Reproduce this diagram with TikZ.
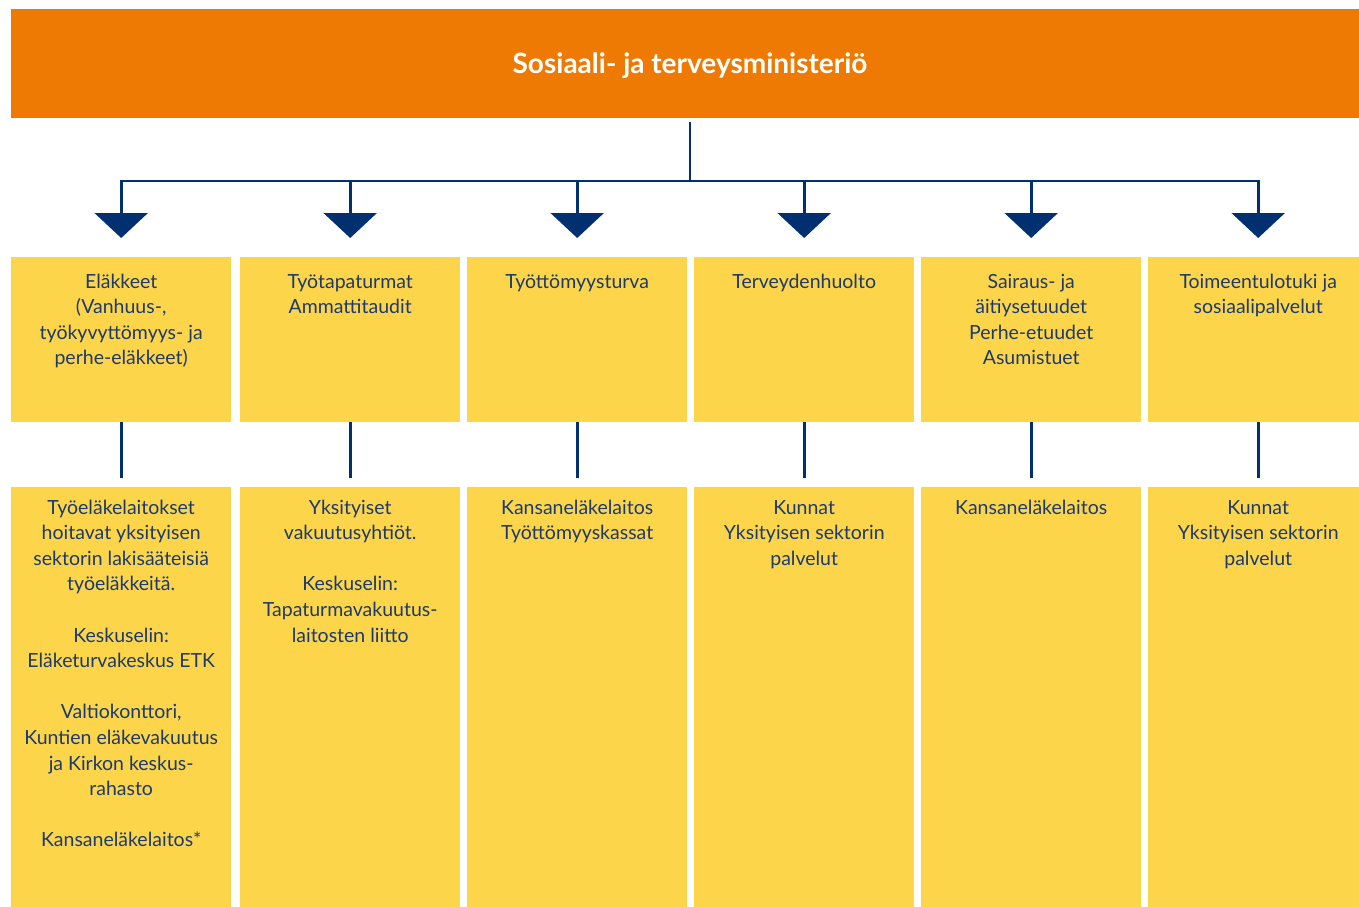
\documentclass[tikz,border=0pt]{standalone}
\usepackage{fontspec}
\setmainfont{Lato}
\usetikzlibrary{arrows.meta}
\definecolor{stmorange}{HTML}{EE7A03}
\definecolor{stmyellow}{HTML}{FDD54B}
\definecolor{stmnavy}{HTML}{00306F}
\definecolor{stmtext}{HTML}{1D3A6C}
\begin{document}
\begin{tikzpicture}[x=1pt,y=-1pt,
  topbox/.style={fill=stmyellow, draw=none, inner sep=0pt, minimum width=220pt, minimum height=165pt, anchor=north west},
  lowbox/.style={fill=stmyellow, draw=none, inner sep=0pt, minimum width=220pt, minimum height=425pt, anchor=north west},
  txt/.style={anchor=north, inner sep=0pt, align=center, text=stmtext, font=\fontsize{19.5}{25.6}\selectfont},
  link/.style={draw=stmnavy, line width=2.6pt},
  arrowlink/.style={link, -{Triangle[width=53pt,length=25pt]}, shorten >=19pt},
]
\useasboundingbox (0,0) rectangle (1359,906);
% top bar
\node[fill=stmorange, inner sep=0pt, minimum width=1360pt, minimum height=109pt, anchor=north west] (top) at (10.7,9) {};
\node[anchor=base, inner sep=0pt, text=white, font=\fontsize{28}{33}\selectfont\bfseries] (tt) at (690,73) {Sosiaali- ja terveysministeriö};
% upper boxes
\node[topbox] (b1) at (11,257) {};
\node[topbox] (b2) at (240,257) {};
\node[topbox] (b3) at (467,257) {};
\node[topbox] (b4) at (694,257) {};
\node[topbox] (b5) at (921,257) {};
\node[topbox] (b6) at (1148,257) {};
% lower boxes
\node[lowbox] (c1) at (11,487) {};
\node[lowbox] (c2) at (240,487) {};
\node[lowbox] (c3) at (467,487) {};
\node[lowbox] (c4) at (694,487) {};
\node[lowbox] (c5) at (921,487) {};
\node[lowbox] (c6) at (1148,487) {};
% upper texts
\node[txt] (b1t) at ([yshift=-13pt]b1.north) {\strut Eläkkeet\\(Vanhuus-,\\työkyvyttömyys- ja\\perhe-eläkkeet)};
\node[txt] (b2t) at ([yshift=-13pt]b2.north) {\strut Työtapaturmat\\Ammattitaudit};
\node[txt] (b3t) at ([yshift=-13pt]b3.north) {\strut Työttömyysturva};
\node[txt] (b4t) at ([yshift=-13pt]b4.north) {\strut Terveydenhuolto};
\node[txt] (b5t) at ([yshift=-13pt]b5.north) {\strut Sairaus- ja\\äitiysetuudet\\Perhe-etuudet\\Asumistuet};
\node[txt] (b6t) at ([yshift=-13pt]b6.north) {\strut Toimeentulotuki ja\\sosiaalipalvelut};
% lower texts
\node[txt] (c1t) at ([yshift=-9pt]c1.north) {\strut Työeläkelaitokset\\hoitavat yksityisen\\sektorin lakisääteisiä\\työeläkkeitä.\\[25.6pt]Keskuselin:\\Eläketurvakeskus ETK\\[25.6pt]Valtiokonttori,\\Kuntien eläkevakuutus\\ja Kirkon keskus-\\rahasto\\[25.6pt]Kansaneläkelaitos*};
\node[txt] (c2t) at ([yshift=-9pt]c2.north) {\strut Yksityiset\\vakuutusyhtiöt.\\[25.6pt]Keskuselin:\\Tapaturmavakuutus-\\laitosten liitto};
\node[txt] (c3t) at ([yshift=-9pt]c3.north) {\strut Kansaneläkelaitos\\Työttömyyskassat};
\node[txt] (c4t) at ([yshift=-9pt]c4.north) {\strut Kunnat\\Yksityisen sektorin\\palvelut};
\node[txt] (c5t) at ([yshift=-9pt]c5.north) {\strut Kansaneläkelaitos};
\node[txt] (c6t) at ([yshift=-9pt]c6.north) {\strut Kunnat\\Yksityisen sektorin\\palvelut};
% connectors
\coordinate (hub) at (690,181);
\draw[link, shorten <=4pt] (top.south -| hub) -- (hub);
\draw[link, line cap=rect] (b1.north |- hub) -- (b6.north |- hub);
\foreach \i in {1,...,6}{
  \draw[arrowlink] (b\i.north |- hub) -- (b\i.north);
  \draw[link, shorten >=9pt] (b\i.south) -- (c\i.north);
}
\end{tikzpicture}
\end{document}
